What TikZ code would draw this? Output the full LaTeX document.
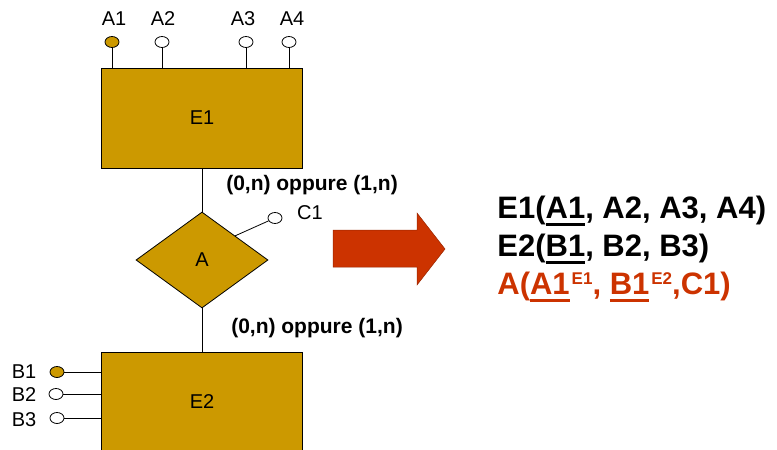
\documentclass[tikz,border=0pt]{standalone}
\usepackage{fontspec}
\setmainfont{Liberation Sans}
\usetikzlibrary{positioning}
\usetikzlibrary{shapes.geometric}

\definecolor{entgold}{HTML}{CC9900}
\definecolor{relred}{HTML}{CC3300}
\newcommand{\keyul}[1]{\setbox0\hbox{#1}\rlap{\rule[-8pt]{\wd0}{3pt}}\box0}
\newcommand{\relsup}[1]{\hspace{2pt}\raisebox{10pt}{\fontsize{17}{17}\selectfont #1}}

\begin{document}
\begin{tikzpicture}[x=1pt,y=-1pt,line width=0.8pt,
  entity/.style={draw,fill=entgold,minimum width=201pt,minimum height=100pt,font=\fontsize{20}{24}\selectfont},
  relation/.style={diamond,draw,fill=entgold,minimum width=132pt,minimum height=96pt,inner sep=0pt,font=\fontsize{20}{24}\selectfont},
  attr/.style={ellipse,draw,fill=white,minimum width=14pt,minimum height=11pt,inner sep=0pt},
  keyattr/.style={attr,fill=entgold},
  lbl/.style={font=\fontsize{20}{24}\selectfont,inner sep=0pt},
  card/.style={font=\bfseries\fontsize{21}{25}\selectfont,inner sep=0pt},
  schema/.style={font=\bfseries\fontsize{31}{37}\selectfont,inner sep=0pt,anchor=base west}]
  \useasboundingbox (0,0) rectangle (777,450);
  \clip (0,0) rectangle (777,450);

  % entities and relation
  \node [entity]   (E1) at (202,118) {E1};
  \node [relation] (A)  at (202,260) {A};
  \node [entity]   (E2) at (202,402) {E2};

  \draw (E1) -- (A);
  \draw (A) -- (E2);

  % attributes of E1
  \node [keyattr] (a1) at (112,42) {};
  \node [attr]    (a2) at (162,42) {};
  \node [attr]    (a3) at (246,42) {};
  \node [attr]    (a4) at (289,42) {};
  \node [lbl] (la1) at (114,19) {A1};
  \node [lbl] (la2) at (163,19) {A2};
  \node [lbl] (la3) at (243,19) {A3};
  \node [lbl] (la4) at (292,19) {A4};
  \draw (a1) -- (a1 |- E1.north);
  \draw (a2) -- (a2 |- E1.north);
  \draw (a3) -- (a3 |- E1.north);
  \draw (a4) -- (a4 |- E1.north);

  % attribute of A
  \node [attr] (c1) at (275,218) {};
  \node [lbl] (lc1) at (310,213) {C1};
  \draw (A.north east) -- (c1);

  % attributes of E2
  \node [keyattr] (b1) at (57,372) {};
  \node [attr]    (b2) at (56,394) {};
  \node [attr]    (b3) at (57,418) {};
  \node [lbl] (lb1) at (24,372) {B1};
  \node [lbl] (lb2) at (24,395) {B2};
  \node [lbl] (lb3) at (24,420) {B3};
  \draw (b1) -- (b1 -| E2.west);
  \draw (b2) -- (b2 -| E2.west);
  \draw (b3) -- (b3 -| E2.west);

  % cardinalities
  \node [card] (k1) at (312,185) {(0,n) oppure (1,n)};
  \node [card] (k2) at (317,328) {(0,n) oppure (1,n)};

  % translation arrow
  \filldraw [fill=relred,draw=relred!75!black,line width=0.5pt]
    (333,230) -- (417,230) -- (417,213) -- (445,249) -- (417,285) -- (417,267) -- (333,267) -- cycle;

  % relational schema
  \node [schema] (s1) at (497,218) {E1(\keyul{A1}, A2, A3, A4)};
  \node [schema] (s2) at (497,256) {E2(\keyul{B1}, B2, B3)};
  \node [schema,text=relred] (s3) at (497,294) {A(\keyul{A1}\relsup{E1}, \keyul{B1}\relsup{E2},C1)};
\end{tikzpicture}
\end{document}
